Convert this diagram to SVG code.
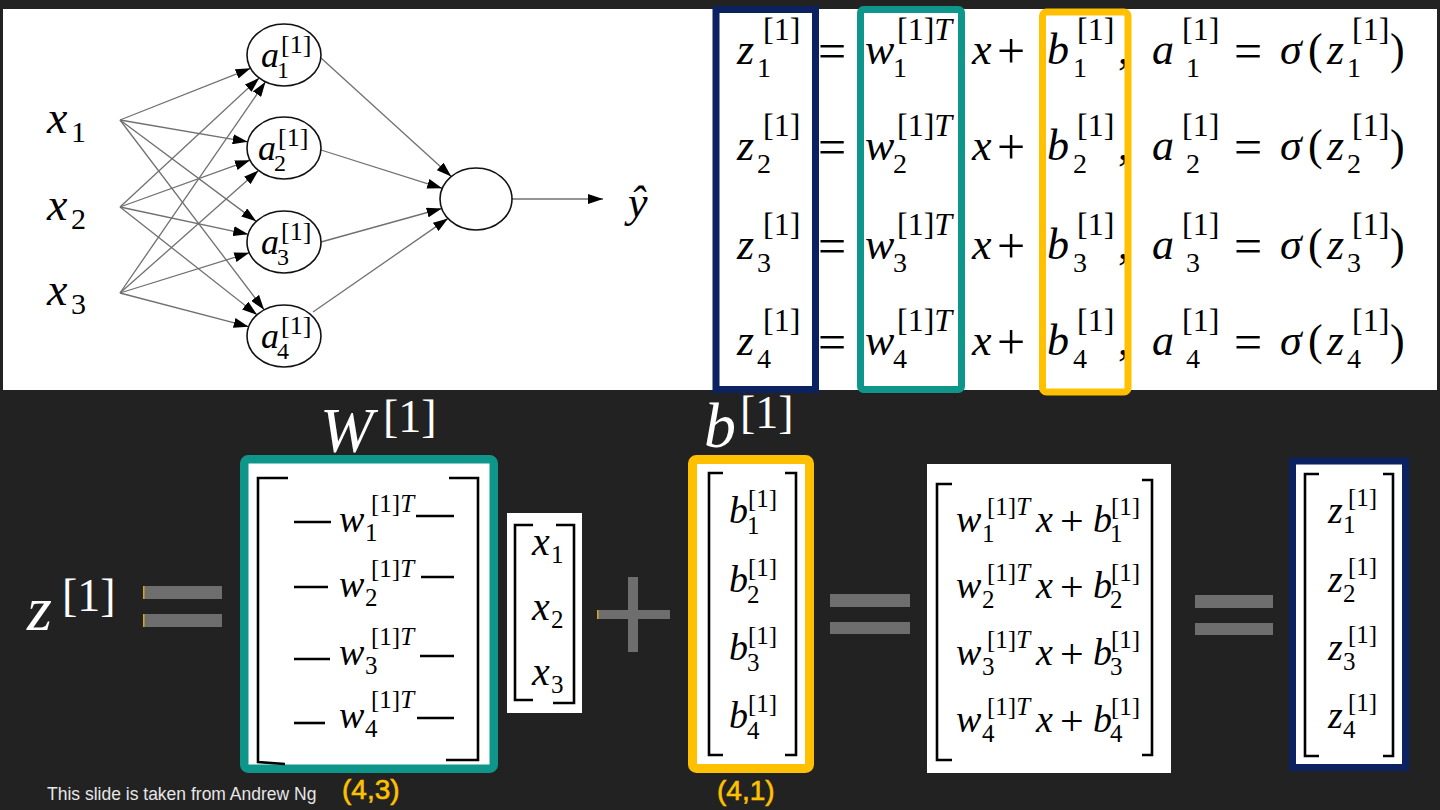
<svg xmlns="http://www.w3.org/2000/svg" width="1440" height="810" viewBox="0 0 1440 810">
<defs>
<marker id="ah" markerWidth="15" markerHeight="10" refX="15" refY="5" orient="auto" markerUnits="userSpaceOnUse"><path d="M0,0 L15,5 L0,10 z" fill="#000"/></marker>
<style>
.mi{font-family:"Liberation Serif",serif;font-style:italic;fill:#000}
.up{font-family:"Liberation Serif",serif;fill:#000}
.e{font-size:44px}.s{font-size:28px}.p{font-size:32px}.op{font-size:50px}
.n{font-size:36px}.ns{font-size:24px}.np{font-size:26px}
.be{font-size:38px}.bs{font-size:25px}
.w{fill:#fff}
.edge{stroke:#707070;stroke-width:1.3;fill:none;marker-end:url(#ah)}
.node{fill:#fff;stroke:#111;stroke-width:1.6}
.br{stroke:#000;stroke-width:2.6;fill:none}
.dash{stroke:#000;stroke-width:2.6}
.gray{fill:#6e6e6e}
.note{font-family:"Liberation Sans",sans-serif;font-size:17.5px;fill:#e6e6e6}
.hand{font-family:"Liberation Sans",sans-serif;font-size:28px;fill:#ffc000;stroke:#ffc000;stroke-width:0.6}
</style>
</defs>
<rect width="1440" height="810" fill="#222"/>
<rect x="3" y="9" width="1434" height="381" fill="#fff"/>

<!-- Neural network connectors -->
<g id="connectors">
<line class="edge" x1="120" y1="120" x2="250.6" y2="68.3"/>
<line class="edge" x1="120" y1="120" x2="247.7" y2="141.8"/>
<line class="edge" x1="120" y1="120" x2="256.3" y2="221.4"/>
<line class="edge" x1="120" y1="120" x2="264.1" y2="309.8"/>
<line class="edge" x1="120" y1="207" x2="259.2" y2="78"/>
<line class="edge" x1="120" y1="207" x2="250" y2="160.2"/>
<line class="edge" x1="120" y1="207" x2="248.2" y2="234.3"/>
<line class="edge" x1="120" y1="207" x2="257" y2="314.8"/>
<line class="edge" x1="120" y1="293" x2="265.5" y2="81.8"/>
<line class="edge" x1="120" y1="293" x2="258.5" y2="170.5"/>
<line class="edge" x1="120" y1="293" x2="249.3" y2="252.8"/>
<line class="edge" x1="120" y1="293" x2="248.7" y2="326.7"/>
<line class="edge" x1="321" y1="58" x2="451.3" y2="176.5"/>
<line class="edge" x1="321" y1="150" x2="442.2" y2="188.3"/>
<line class="edge" x1="321" y1="242" x2="441.7" y2="208.5"/>
<line class="edge" x1="313" y1="312" x2="448" y2="218.4"/>
<line class="edge" x1="512" y1="199" x2="603" y2="199"/>
</g>

<g id="x1"><text class="mi" font-size="46" x="47" y="133">x</text><text class="up" font-size="30" x="71" y="142">1</text></g>
<g id="x2"><text class="mi" font-size="46" x="47" y="220">x</text><text class="up" font-size="30" x="71" y="229">2</text></g>
<g id="x3"><text class="mi" font-size="46" x="47" y="305">x</text><text class="up" font-size="30" x="71" y="314">3</text></g>

<g id="a1"><ellipse class="node" cx="284" cy="55" rx="37" ry="31"/><text class="mi n" x="261" y="67">a</text><text class="up ns" x="277" y="78">1</text><text class="up np" x="281" y="53">[1]</text></g>
<g id="a2"><ellipse class="node" cx="284" cy="148" rx="37" ry="31"/><text class="mi n" x="258" y="160">a</text><text class="up ns" x="274" y="171">2</text><text class="up np" x="278" y="146">[1]</text></g>
<g id="a3"><ellipse class="node" cx="284" cy="242" rx="37" ry="31"/><text class="mi n" x="261" y="254">a</text><text class="up ns" x="277" y="265">3</text><text class="up np" x="281" y="240">[1]</text></g>
<g id="a4"><ellipse class="node" cx="284" cy="336" rx="37" ry="31"/><text class="mi n" x="261" y="348">a</text><text class="up ns" x="277" y="359">4</text><text class="up np" x="281" y="334">[1]</text></g>
<g id="out"><ellipse class="node" cx="476" cy="199" rx="36" ry="31"/></g>
<g id="yhat"><text class="mi" font-size="44" x="628" y="217">ŷ</text></g>

<!-- Equations -->
<g id="eq1">
<text class="mi e" x="737" y="64">z</text><text class="up s" x="757" y="77">1</text><text class="up p" x="763" y="40">[1]</text>
<text class="up op" x="818" y="68">=</text>
<text class="mi e" x="865" y="64">w</text><text class="up s" x="893" y="77">1</text><text class="up p" x="897" y="40">[1]<tspan font-style="italic">T</tspan></text>
<text class="mi e" x="972" y="64">x</text><text class="up op" x="997" y="68">+</text>
<text class="mi e" x="1047" y="64">b</text><text class="up s" x="1073" y="77">1</text><text class="up p" x="1077" y="40">[1]</text><text class="up e" x="1118" y="64">,</text>
<text class="mi e" x="1152" y="64">a</text><text class="up s" x="1186" y="77">1</text><text class="up p" x="1182" y="40">[1]</text>
<text class="up op" x="1234" y="68">=</text>
<text class="mi e" x="1280" y="64">σ</text><text class="up e" x="1308" y="64">(</text>
<text class="mi e" x="1327" y="64">z</text><text class="up s" x="1347" y="77">1</text><text class="up p" x="1352" y="40">[1]</text><text class="up e" x="1390" y="64">)</text>
</g>
<g id="eq2">
<text class="mi e" x="737" y="160">z</text><text class="up s" x="757" y="173">2</text><text class="up p" x="763" y="136">[1]</text>
<text class="up op" x="818" y="164">=</text>
<text class="mi e" x="865" y="160">w</text><text class="up s" x="893" y="173">2</text><text class="up p" x="897" y="136">[1]<tspan font-style="italic">T</tspan></text>
<text class="mi e" x="972" y="160">x</text><text class="up op" x="997" y="164">+</text>
<text class="mi e" x="1047" y="160">b</text><text class="up s" x="1073" y="173">2</text><text class="up p" x="1077" y="136">[1]</text><text class="up e" x="1118" y="160">,</text>
<text class="mi e" x="1152" y="160">a</text><text class="up s" x="1186" y="173">2</text><text class="up p" x="1182" y="136">[1]</text>
<text class="up op" x="1234" y="164">=</text>
<text class="mi e" x="1280" y="160">σ</text><text class="up e" x="1308" y="160">(</text>
<text class="mi e" x="1327" y="160">z</text><text class="up s" x="1347" y="173">2</text><text class="up p" x="1352" y="136">[1]</text><text class="up e" x="1390" y="160">)</text>
</g>
<g id="eq3">
<text class="mi e" x="737" y="259">z</text><text class="up s" x="757" y="272">3</text><text class="up p" x="763" y="235">[1]</text>
<text class="up op" x="818" y="263">=</text>
<text class="mi e" x="865" y="259">w</text><text class="up s" x="893" y="272">3</text><text class="up p" x="897" y="235">[1]<tspan font-style="italic">T</tspan></text>
<text class="mi e" x="972" y="259">x</text><text class="up op" x="997" y="263">+</text>
<text class="mi e" x="1047" y="259">b</text><text class="up s" x="1073" y="272">3</text><text class="up p" x="1077" y="235">[1]</text><text class="up e" x="1118" y="259">,</text>
<text class="mi e" x="1152" y="259">a</text><text class="up s" x="1186" y="272">3</text><text class="up p" x="1182" y="235">[1]</text>
<text class="up op" x="1234" y="263">=</text>
<text class="mi e" x="1280" y="259">σ</text><text class="up e" x="1308" y="259">(</text>
<text class="mi e" x="1327" y="259">z</text><text class="up s" x="1347" y="272">3</text><text class="up p" x="1352" y="235">[1]</text><text class="up e" x="1390" y="259">)</text>
</g>
<g id="eq4">
<text class="mi e" x="737" y="355">z</text><text class="up s" x="757" y="368">4</text><text class="up p" x="763" y="331">[1]</text>
<text class="up op" x="818" y="359">=</text>
<text class="mi e" x="865" y="355">w</text><text class="up s" x="893" y="368">4</text><text class="up p" x="897" y="331">[1]<tspan font-style="italic">T</tspan></text>
<text class="mi e" x="972" y="355">x</text><text class="up op" x="997" y="359">+</text>
<text class="mi e" x="1047" y="355">b</text><text class="up s" x="1073" y="368">4</text><text class="up p" x="1077" y="331">[1]</text><text class="up e" x="1118" y="355">,</text>
<text class="mi e" x="1152" y="355">a</text><text class="up s" x="1186" y="368">4</text><text class="up p" x="1182" y="331">[1]</text>
<text class="up op" x="1234" y="359">=</text>
<text class="mi e" x="1280" y="355">σ</text><text class="up e" x="1308" y="355">(</text>
<text class="mi e" x="1327" y="355">z</text><text class="up s" x="1347" y="368">4</text><text class="up p" x="1352" y="331">[1]</text><text class="up e" x="1390" y="355">)</text>
</g>
<g id="top-boxes" fill="none">
<rect x="716" y="9.5" width="99.5" height="380" stroke="#0b2160" stroke-width="7"/>
<rect x="860.5" y="9.5" width="101" height="380" rx="3" stroke="#0e968a" stroke-width="7"/>
<rect x="1042.5" y="12" width="85.5" height="380" rx="4" stroke="#ffc000" stroke-width="7"/>
</g>

<!-- Bottom -->
<g id="z-label"><text class="mi w" font-size="64" x="27" y="630">z</text><text class="up w" font-size="46" x="62" y="611">[1]</text></g>
<g id="eq-a"><rect class="gray" x="143" y="586" width="79" height="13"/><rect class="gray" x="143" y="614" width="79" height="13"/><rect x="143" y="586" width="1.5" height="13" fill="#d4a520"/><rect x="143" y="614" width="1.5" height="13" fill="#d4a520"/></g>

<g id="W">
<text class="mi w" font-size="64" x="320" y="452">W</text><text class="up w" font-size="46" x="383" y="432">[1]</text>
<rect x="244.25" y="459.25" width="249.5" height="309.5" rx="4" fill="#fff" stroke="#0e968a" stroke-width="8.5"/>
<path class="br" d="M288,478 H258 V762 L285,764"/>
<path class="br" d="M449,478 H478 V760 H446"/>
<line class="dash" x1="294" y1="522" x2="331" y2="522"/><line class="dash" x1="416" y1="516" x2="454" y2="516"/>
<line class="dash" x1="294" y1="587" x2="328" y2="587"/><line class="dash" x1="421" y1="577" x2="454" y2="577"/>
<line class="dash" x1="294" y1="659" x2="330" y2="659"/><line class="dash" x1="420" y1="656" x2="454" y2="656"/>
<line class="dash" x1="294" y1="723" x2="325" y2="723"/><line class="dash" x1="417" y1="718" x2="454" y2="718"/>
<text class="mi be" x="339" y="532">w</text><text class="up bs" x="365" y="541">1</text><text class="up bs" x="371" y="512">[1]<tspan font-style="italic">T</tspan></text>
<text class="mi be" x="339" y="597">w</text><text class="up bs" x="365" y="606">2</text><text class="up bs" x="371" y="577">[1]<tspan font-style="italic">T</tspan></text>
<text class="mi be" x="339" y="665">w</text><text class="up bs" x="365" y="674">3</text><text class="up bs" x="371" y="645">[1]<tspan font-style="italic">T</tspan></text>
<text class="mi be" x="339" y="728">w</text><text class="up bs" x="365" y="737">4</text><text class="up bs" x="371" y="708">[1]<tspan font-style="italic">T</tspan></text>
</g>
<text class="hand" x="342" y="799">(4,3)</text>

<g id="X">
<rect x="507" y="513" width="75" height="200" fill="#fff"/>
<path class="br" d="M533,525 H515 V700 H533"/>
<path class="br" d="M556,525 H574 V703 H553"/>
<text class="mi" font-size="40" x="532" y="555">x</text><text class="up" font-size="25" x="551" y="563">1</text>
<text class="mi" font-size="40" x="532" y="620">x</text><text class="up" font-size="25" x="551" y="628">2</text>
<text class="mi" font-size="40" x="532" y="685">x</text><text class="up" font-size="25" x="551" y="693">3</text>
</g>
<g id="plus"><rect class="gray" x="597" y="610" width="73" height="9"/><rect class="gray" x="628" y="577" width="10" height="75"/><rect x="597" y="610" width="1.5" height="9" fill="#d4a520"/></g>

<g id="B">
<text class="mi w" font-size="64" x="704" y="447">b</text><text class="up w" font-size="46" x="740" y="428">[1]</text>
<rect x="692.5" y="459.5" width="117" height="309" rx="4" fill="#fff" stroke="#ffc000" stroke-width="9"/>
<path class="br" d="M723,473 H709 V755 H723"/>
<path class="br" d="M785,473 H796 V755 H785"/>
<text class="mi be" x="729" y="523">b</text><text class="up bs" x="747" y="534">1</text><text class="up bs" x="748" y="507">[1]</text>
<text class="mi be" x="729" y="592">b</text><text class="up bs" x="747" y="603">2</text><text class="up bs" x="748" y="576">[1]</text>
<text class="mi be" x="729" y="660">b</text><text class="up bs" x="747" y="671">3</text><text class="up bs" x="748" y="644">[1]</text>
<text class="mi be" x="729" y="728">b</text><text class="up bs" x="747" y="739">4</text><text class="up bs" x="748" y="712">[1]</text>
</g>
<text class="hand" x="717" y="800">(4,1)</text>

<g id="eq-b"><rect class="gray" x="830" y="594" width="80" height="13"/><rect class="gray" x="830" y="622" width="80" height="12"/></g>

<g id="R">
<rect x="927" y="464" width="244" height="309" fill="#fff"/>
<path class="br" d="M952,484 H937 V760 H952"/>
<path class="br" d="M1142,480 H1152 V755 H1142"/>
<text class="mi be" x="956" y="532">w</text><text class="up bs" x="982" y="542">1</text><text class="up bs" x="987" y="515">[1]<tspan font-style="italic">T</tspan></text><text class="mi be" x="1036" y="532">x</text><text class="up" font-size="42" x="1060" y="535">+</text><text class="mi be" x="1093" y="532">b</text><text class="up bs" x="1110" y="542">1</text><text class="up bs" x="1111" y="515">[1]</text>
<text class="mi be" x="956" y="598">w</text><text class="up bs" x="982" y="608">2</text><text class="up bs" x="987" y="581">[1]<tspan font-style="italic">T</tspan></text><text class="mi be" x="1036" y="598">x</text><text class="up" font-size="42" x="1060" y="601">+</text><text class="mi be" x="1093" y="598">b</text><text class="up bs" x="1110" y="608">2</text><text class="up bs" x="1111" y="581">[1]</text>
<text class="mi be" x="956" y="665">w</text><text class="up bs" x="982" y="675">3</text><text class="up bs" x="987" y="648">[1]<tspan font-style="italic">T</tspan></text><text class="mi be" x="1036" y="665">x</text><text class="up" font-size="42" x="1060" y="668">+</text><text class="mi be" x="1093" y="665">b</text><text class="up bs" x="1110" y="675">3</text><text class="up bs" x="1111" y="648">[1]</text>
<text class="mi be" x="956" y="732">w</text><text class="up bs" x="982" y="742">4</text><text class="up bs" x="987" y="715">[1]<tspan font-style="italic">T</tspan></text><text class="mi be" x="1036" y="732">x</text><text class="up" font-size="42" x="1060" y="735">+</text><text class="mi be" x="1093" y="732">b</text><text class="up bs" x="1110" y="742">4</text><text class="up bs" x="1111" y="715">[1]</text>
</g>

<g id="eq-c"><rect class="gray" x="1195" y="595" width="78" height="13"/><rect class="gray" x="1195" y="623" width="78" height="12"/></g>

<g id="Z">
<rect x="1292.5" y="461" width="113" height="306.5" fill="#fff" stroke="#0b2160" stroke-width="7"/>
<path class="br" d="M1319,474 H1305 V756 H1319"/>
<path class="br" d="M1383,474 H1393 V756 H1383"/>
<text class="mi be" x="1328" y="523">z</text><text class="up bs" x="1343" y="533">1</text><text class="up bs" x="1348" y="506">[1]</text>
<text class="mi be" x="1328" y="592">z</text><text class="up bs" x="1343" y="602">2</text><text class="up bs" x="1348" y="575">[1]</text>
<text class="mi be" x="1328" y="660">z</text><text class="up bs" x="1343" y="670">3</text><text class="up bs" x="1348" y="643">[1]</text>
<text class="mi be" x="1328" y="728">z</text><text class="up bs" x="1343" y="738">4</text><text class="up bs" x="1348" y="711">[1]</text>
</g>

<text class="note" x="47" y="800">This slide is taken from Andrew Ng</text>
</svg>
